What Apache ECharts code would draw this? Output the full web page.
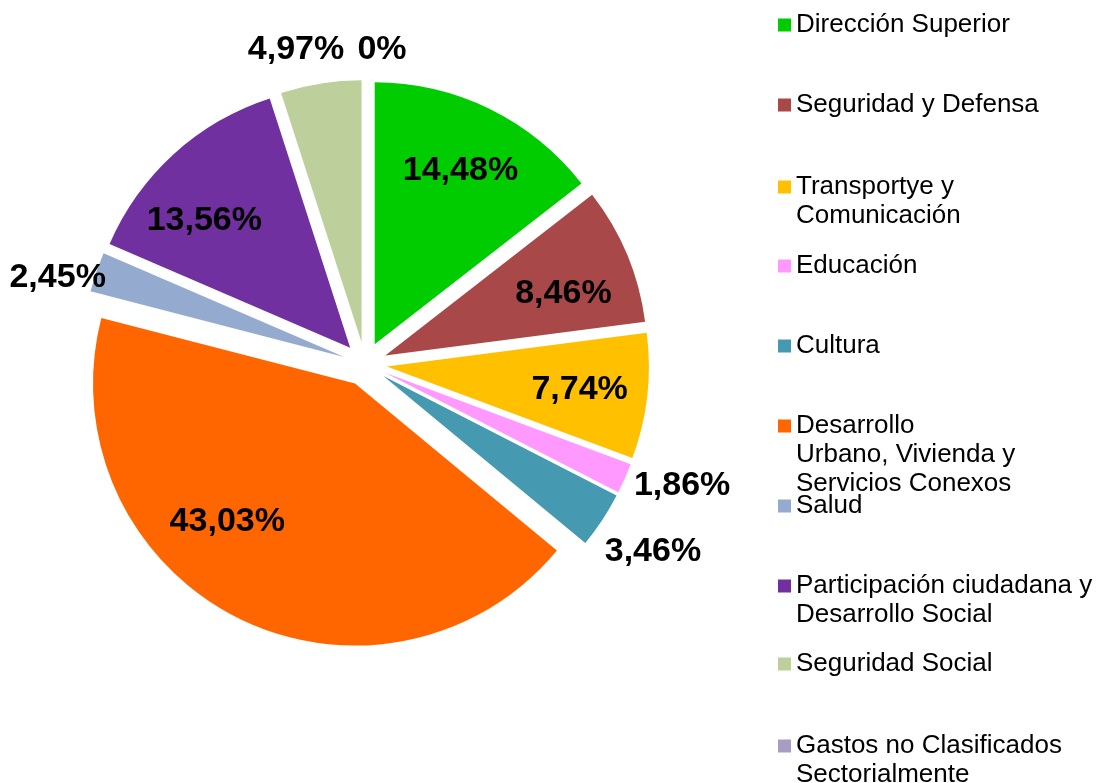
<!DOCTYPE html>
<html>
<head>
<meta charset="utf-8">
<script src="https://cdn.jsdelivr.net/npm/echarts@6/dist/echarts.min.js"></script>
<style>
html,body{margin:0;padding:0;background:#fff;}
#chart{width:1103px;height:783px;}
</style>
</head>
<body>
<div id="chart"></div>
<script>
// ---- data ----
const categories = [
  'Dirección Superior',
  'Seguridad y Defensa',
  'Transportye y Comunicación',
  'Educación',
  'Cultura',
  'Desarrollo Urbano, Vivienda y Servicios Conexos',
  'Salud',
  'Participación ciudadana y Desarrollo Social',
  'Seguridad Social',
  'Gastos no Clasificados Sectorialmente'
];
const values = [14.48, 8.46, 7.74, 1.86, 3.46, 43.03, 2.45, 13.56, 4.97, 0];
const legendLabels = [
  ['Dirección Superior'],
  ['Seguridad y Defensa'],
  ['Transportye y', 'Comunicación'],
  ['Educación'],
  ['Cultura'],
  ['Desarrollo', 'Urbano, Vivienda y', 'Servicios Conexos'],
  ['Salud'],
  ['Participación ciudadana y', 'Desarrollo Social'],
  ['Seguridad Social'],
  ['Gastos no Clasificados', 'Sectorialmente']
];

// ---- styling ----
const colors = ['#00CC00', '#A94848', '#FFC000', '#FF99FF', '#4599B0',
                '#FF6600', '#95AACF', '#7030A0', '#BDD09B', '#A99CC2'];
const legendFirstLineY = [25, 105, 187, 266, 346, 426, 506, 586, 664, 746];
const insideNudge = [[1,0],[0,12],[1,1],null,null,[-40,-34],null,[-16,16],null,null];
const outsideNudge = [null,null,null,[17,-11],[14,7],null,[3,20],null,[-18,10],[17,14]];

const CENTER = [365, 364];
const R = 262;
const OFFSET = 22;
const LH = 29;
const FONT = "'Liberation Sans', Arial, sans-serif";

function fmt(v) {
  return v === 0 ? '0%' : v.toFixed(2).replace('.', ',') + '%';
}

const sliceData = categories.map((c, i) => ({
  name: c, value: values[i], selected: true,
  itemStyle: { color: colors[i] }
}));

function labelData(insideSet) {
  return categories.map((c, i) => ({
    name: c, value: values[i], selected: true,
    label: { show: insideSet ? values[i] > 5 : values[i] <= 5 }
  }));
}

const legends = categories.map((c, i) => {
  const lines = legendLabels[i];
  const pad = lines.length - 1;
  const textLines = [];
  for (let k = 0; k < pad; k++) textLines.push('');
  lines.forEach(l => textLines.push(l));
  const totalH = textLines.length * LH;
  return {
    orient: 'vertical',
    left: 778,
    top: legendFirstLineY[i] - totalH / 2,
    padding: 0,
    itemWidth: 13,
    itemHeight: 13,
    itemGap: 0,
    selectedMode: false,
    icon: 'rect',
    data: [c],
    formatter: () => textLines.join('\n'),
    textStyle: { fontSize: 26, fontFamily: FONT, color: '#000', lineHeight: LH }
  };
});

const labelCommon = {
  fontSize: 34, fontWeight: 'bold', fontFamily: FONT, color: '#000',
  formatter: p => fmt(p.value)
};

const option = {
  backgroundColor: '#fff',
  animation: false,
  legend: legends,
  series: [
    {
      type: 'pie',
      center: CENTER,
      radius: [0, R],
      startAngle: 90,
      clockwise: true,
      selectedMode: 'multiple',
      selectedOffset: OFFSET,
      silent: true,
      label: { show: false },
      labelLine: { show: false },
      emphasis: { disabled: true },
      itemStyle: { borderWidth: 0 },
      data: sliceData
    },
    {
      type: 'pie',
      center: CENTER,
      radius: [118, R],
      startAngle: 90,
      clockwise: true,
      selectedMode: 'multiple',
      selectedOffset: OFFSET,
      silent: true,
      avoidLabelOverlap: false,
      itemStyle: { color: 'rgba(0,0,0,0)' },
      emphasis: { disabled: true },
      labelLine: { show: false },
      label: Object.assign({ position: 'inside' }, labelCommon),
      labelLayout: p => {
        const n = insideNudge[p.dataIndex];
        return n ? { dx: n[0], dy: n[1] } : {};
      },
      data: labelData(true)
    },
    {
      type: 'pie',
      center: CENTER,
      radius: [290, 316],
      startAngle: 90,
      clockwise: true,
      selectedMode: 'multiple',
      selectedOffset: OFFSET,
      silent: true,
      avoidLabelOverlap: false,
      itemStyle: { color: 'rgba(0,0,0,0)' },
      emphasis: { disabled: true },
      labelLine: { show: false },
      label: Object.assign({ position: 'inside' }, labelCommon),
      labelLayout: p => {
        const n = outsideNudge[p.dataIndex];
        return n ? { dx: n[0], dy: n[1] } : {};
      },
      data: labelData(false)
    }
  ]
};

const chart = echarts.init(document.getElementById('chart'), null, { renderer: 'canvas' });
chart.setOption(option);
</script>
</body>
</html>
